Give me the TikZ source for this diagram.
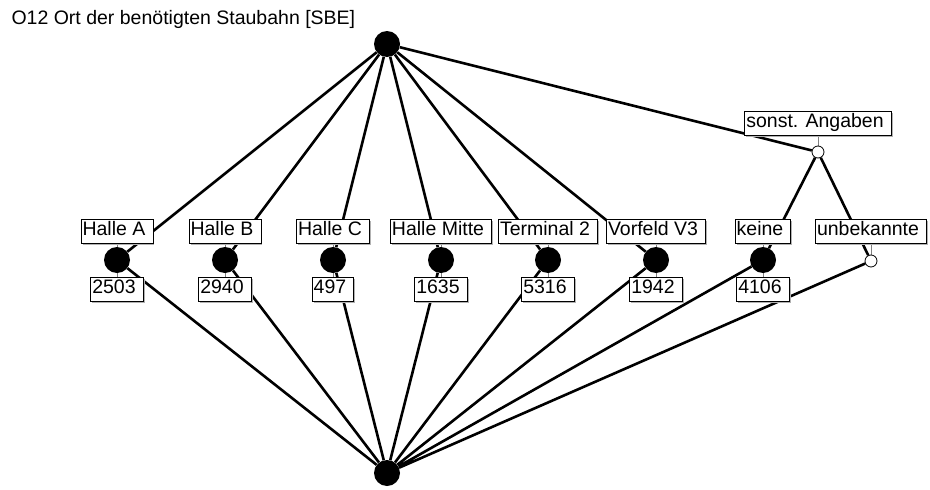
\documentclass[tikz,border=0pt]{standalone}
\usepackage{fontspec}
\setmainfont{Liberation Sans}
\usetikzlibrary{positioning, backgrounds, shadows}

\begin{document}
\begin{tikzpicture}[
    x=1pt, y=-1pt,
    every node/.style={font=\fontsize{19.5}{21}\selectfont},
    concept/.style={circle, fill=black, minimum size=26pt, inner sep=0pt},
    opencon/.style={circle, draw, fill=white, line width=0.8pt, minimum size=12pt, inner sep=0pt},
    lbl/.style={draw, fill=white, line width=0.8pt, inner xsep=1.5pt, inner ysep=0pt, minimum height=24pt,
        drop shadow={shadow xshift=1.5pt, shadow yshift=-1.5pt, fill=gray!60, opacity=1},
        execute at begin node=\strut, execute at end node=\hspace{6pt}},
    link/.style={line width=2.6pt},
    stem/.style={gray, line width=0.8pt}
]
    \useasboundingbox (0,0) rectangle (930,490);

    \node[anchor=west] (title) at (8,19) {O12 Ort der benötigten Staubahn [SBE]};

    \node[concept] (top) at (387,44) {};
    \node[concept] (bot) at (387,473) {};
    \node[concept] (hA) at (117,260) {};
    \node[concept] (hB) at (225,260) {};
    \node[concept] (hC) at (333,260) {};
    \node[concept] (hM) at (441,260) {};
    \node[concept] (t2) at (548,260) {};
    \node[concept] (v3) at (656,260) {};
    \node[concept] (kn) at (763,260) {};
    \node[opencon] (sa) at (818,152) {};
    \node[opencon] (ub) at (871,261) {};

    \node[lbl, above=3pt of hA] (lA) {Halle A};
    \node[lbl, above=3pt of hB] (lB) {Halle B};
    \node[lbl, above=3pt of hC] (lC) {Halle C};
    \node[lbl, above=3pt of hM] (lM) {Halle Mitte};
    \node[lbl, above=3pt of t2] (lt2) {Terminal 2};
    \node[lbl, above=3pt of v3] (lv3) {Vorfeld V3};
    \node[lbl, above=3pt of kn] (lkn) {keine};
    \node[lbl, above=10pt of sa] (lsa) {sonst. Angaben};
    \node[lbl, above=11pt of ub] (lub) {unbekannte};

    \node[lbl, below=4pt of hA] (nA) {2503};
    \node[lbl, below=4pt of hB] (nB) {2940};
    \node[lbl, below=4pt of hC] (nC) {497};
    \node[lbl, below=4pt of hM] (nM) {1635};
    \node[lbl, below=4pt of t2] (nt2) {5316};
    \node[lbl, below=4pt of v3] (nv3) {1942};
    \node[lbl, below=4pt of kn] (nkn) {4106};

    \begin{scope}[on background layer]
        % lines of the lattice
        \draw[link] (top) -- (hA) (top) -- (hB) (top) -- (hC) (top) -- (hM);
        \draw[link] (top) -- (t2) (top) -- (v3) (top) -- (sa);
        \draw[link] (sa) -- (kn) (sa) -- (ub);
        \draw[link] (hA) -- (bot) (hB) -- (bot) (hC) -- (bot) (hM) -- (bot);
        \draw[link] (t2) -- (bot) (v3) -- (bot) (kn) -- (bot) (ub) -- (bot);

        % label stems
        \draw[stem] (lA.south) -- (hA.north) (hA.south) -- (nA.north);
        \draw[stem] (lB.south) -- (hB.north) (hB.south) -- (nB.north);
        \draw[stem] (lC.south) -- (hC.north) (hC.south) -- (nC.north);
        \draw[stem] (lM.south) -- (hM.north) (hM.south) -- (nM.north);
        \draw[stem] (lt2.south) -- (t2.north) (t2.south) -- (nt2.north);
        \draw[stem] (lv3.south) -- (v3.north) (v3.south) -- (nv3.north);
        \draw[stem] (lkn.south) -- (kn.north) (kn.south) -- (nkn.north);
        \draw[stem] (lsa.south) -- (sa.north);
        \draw[stem] (lub.south) -- (ub.north);
    \end{scope}
\end{tikzpicture}
\end{document}
